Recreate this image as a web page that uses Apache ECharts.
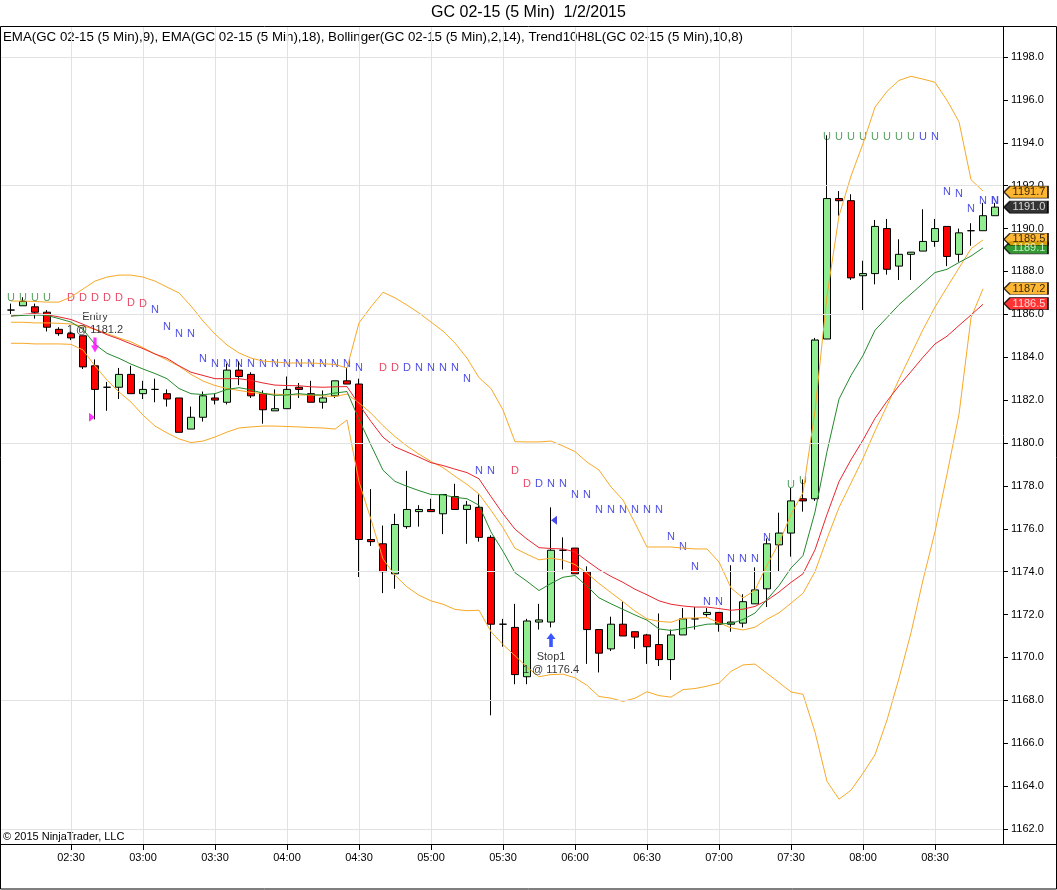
<!DOCTYPE html>
<html>
<head>
<meta charset="UTF-8"/>
<script type="text/javascript" src="https://cdn.jsdelivr.net/npm/echarts@6/dist/echarts.min.js"></script>
<style>
  html, body { margin: 0; padding: 0; background: #fff; }
  #main { width: 1057px; height: 890px; }
</style>
</head>
<body>
<div id="main"></div>
<script type="text/javascript">
// 5 minute bars, GC 02-15, 1/2/2015
var times = ['02:05','02:10','02:15','02:20','02:25','02:30','02:35','02:40','02:45','02:50','02:55','03:00',
             '03:05','03:10','03:15','03:20','03:25','03:30','03:35','03:40','03:45','03:50','03:55','04:00',
             '04:05','04:10','04:15','04:20','04:25','04:30','04:35','04:40','04:45','04:50','04:55','05:00',
             '05:05','05:10','05:15','05:20','05:25','05:30','05:35','05:40','05:45','05:50','05:55','06:00',
             '06:05','06:10','06:15','06:20','06:25','06:30','06:35','06:40','06:45','06:50','06:55','07:00',
             '07:05','07:10','07:15','07:20','07:25','07:30','07:35','07:40','07:45','07:50','07:55','08:00',
             '08:05','08:10','08:15','08:20','08:25','08:30','08:35','08:40','08:45','08:50','08:55'];
var opens  = [1186.2,1186.4,1186.35,1186.1,1185.3,1185.1,1185.0,1183.6,1182.6,1182.6,1183.2,1182.3,
              1182.5,1182.3,1182.1,1180.65,1181.2,1182.1,1181.9,1183.4,1183.2,1182.3,1181.5,1181.6,
              1182.6,1182.3,1181.9,1182.2,1182.9,1182.75,1175.5,1175.3,1173.9,1176.1,1176.8,1176.9,
              1176.7,1177.5,1176.9,1177.0,1175.6,1171.55,1171.4,1169.1,1171.65,1171.65,1175.0,1175.1,
              1174.0,1171.3,1170.4,1171.55,1171.2,1171.05,1170.6,1169.9,1171.05,1171.8,1172.0,1172.1,
              1171.55,1171.6,1172.5,1173.2,1175.25,1175.8,1177.4,1177.4,1184.85,1191.4,1191.3,1187.8,
              1187.9,1190.0,1188.25,1188.8,1188.95,1189.4,1190.1,1188.8,1189.9,1189.9,1190.6];
var highs  = [1186.5,1186.8,1186.5,1186.2,1185.4,1185.2,1185.0,1183.9,1182.85,1183.5,1183.6,1182.9,
              1183.0,1182.5,1182.1,1181.7,1182.4,1182.3,1183.7,1183.8,1183.3,1182.45,1182.5,1183.1,
              1182.8,1182.9,1182.45,1182.9,1183.5,1183.0,1177.85,1176.15,1176.7,1178.7,1177.1,1177.4,
              1177.6,1178.1,1177.3,1177.6,1175.7,1171.8,1172.5,1171.8,1172.5,1177.0,1175.6,1175.1,
              1174.25,1171.3,1171.9,1172.6,1171.2,1171.1,1172.05,1171.3,1172.3,1172.35,1172.3,1172.1,
              1174.3,1172.95,1174.2,1175.55,1176.75,1177.9,1178.3,1184.9,1194.35,1191.75,1191.6,1188.5,
              1190.4,1190.45,1189.5,1188.9,1190.9,1190.45,1190.1,1190.0,1190.25,1191.2,1191.2];
var lows   = [1186.0,1186.4,1185.8,1185.2,1185.0,1184.8,1183.45,1181.1,1181.5,1182.05,1182.3,1182.05,
              1181.9,1181.7,1180.5,1180.65,1181.0,1181.8,1181.8,1182.7,1182.1,1180.9,1181.5,1181.6,
              1182.1,1181.9,1181.6,1182.1,1182.75,1173.75,1175.2,1173.0,1173.2,1176.0,1176.1,1176.8,
              1175.75,1176.9,1175.3,1175.4,1167.3,1170.5,1168.75,1168.75,1171.3,1171.4,1174.1,1173.9,
              1169.7,1169.3,1170.3,1171.0,1170.4,1169.7,1169.6,1168.95,1171.05,1171.3,1171.9,1171.2,
              1171.2,1171.4,1172.5,1172.35,1174.0,1174.7,1176.8,1177.3,1184.85,1190.6,1187.6,1186.2,
              1187.4,1187.85,1187.6,1187.6,1188.95,1189.15,1188.25,1188.45,1189.2,1189.9,1190.6];
var closes = [1186.2,1186.6,1186.1,1185.4,1185.1,1184.9,1183.55,1182.5,1182.6,1183.2,1182.3,1182.5,
              1182.5,1182.05,1180.5,1181.2,1182.2,1182.0,1183.4,1183.1,1182.2,1181.55,1181.6,1182.5,
              1182.5,1181.9,1182.1,1182.9,1182.75,1175.5,1175.4,1174.0,1176.2,1176.9,1176.9,1176.8,
              1177.6,1176.9,1177.1,1175.6,1171.55,1171.55,1169.2,1171.7,1171.75,1175.0,1175.0,1173.9,
              1171.3,1170.2,1171.55,1171.0,1170.95,1170.5,1169.9,1171.05,1171.8,1171.8,1172.1,1171.55,
              1171.65,1172.6,1173.15,1175.3,1175.8,1177.3,1177.3,1184.8,1191.4,1191.3,1187.7,1187.9,
              1190.1,1188.1,1188.8,1188.9,1189.4,1190.0,1188.7,1189.8,1189.9,1190.6,1191.0];

// indicator plots (bars 02:05 .. 08:50)
var ema9   = [1185.92,1185.95,1185.97,1185.95,1185.8,1185.64,1185.3,1184.6,1184.18,1183.95,1183.68,1183.45,
              1183.24,1183.0,1182.54,1182.3,1182.26,1182.3,1182.5,1182.58,1182.48,1182.32,1182.22,1182.24,
              1182.3,1182.25,1182.24,1182.33,1182.4,1181.1,1179.9,1178.73,1178.21,1177.98,1177.78,1177.6,
              1177.58,1177.47,1177.4,1177.1,1175.85,1174.95,1173.95,1173.55,1173.12,1173.45,1173.74,1173.82,
              1173.32,1172.78,1172.5,1172.24,1171.98,1171.74,1171.33,1171.26,1171.34,1171.44,1171.55,1171.57,
              1171.58,1171.77,1172.07,1172.7,1173.35,1174.17,1174.75,1176.78,1179.6,1182.05,1183.15,1184.08,
              1185.26,1185.85,1186.45,1186.95,1187.45,1187.95,1188.1,1188.42,1188.72,1189.1];
var ema18  = [1185.92,1186.0,1186.04,1185.98,1185.88,1185.76,1185.54,1185.3,1185.05,1184.85,1184.62,1184.4,
              1184.15,1183.95,1183.6,1183.3,1183.15,1183.0,1183.0,1183.0,1182.92,1182.8,1182.7,1182.68,
              1182.67,1182.62,1182.6,1182.62,1182.63,1181.8,1181.0,1180.27,1179.82,1179.58,1179.34,1179.08,
              1178.95,1178.78,1178.62,1178.33,1177.5,1176.7,1175.98,1175.52,1175.12,1175.08,1175.06,1174.92,
              1174.5,1174.1,1173.78,1173.5,1173.18,1172.92,1172.64,1172.48,1172.4,1172.35,1172.35,1172.28,
              1172.2,1172.25,1172.38,1172.66,1173.05,1173.5,1173.9,1175.02,1176.67,1178.2,1179.22,1180.14,
              1181.15,1181.95,1182.67,1183.33,1184.0,1184.62,1184.98,1185.48,1185.97,1186.47];
var bbUpper  = [1186.62,1186.62,1186.6,1186.57,1186.57,1186.81,1187.18,1187.55,1187.74,1187.83,1187.83,1187.74,
                1187.55,1187.27,1187.0,1186.39,1185.69,1185.08,1184.57,1184.2,1183.96,1183.82,1183.78,1183.73,
                1183.73,1183.73,1183.7,1183.66,1183.5,1185.6,1186.35,1187.03,1186.77,1186.43,1186.06,1185.64,
                1185.22,1184.66,1183.96,1183.05,1182.54,1181.54,1180.06,1180.05,1180.05,1180.09,1179.86,1179.6,
                1179.11,1178.74,1177.95,1177.34,1176.27,1175.15,1175.15,1175.15,1175.1,1175.06,1175.06,1174.45,
                1173.24,1172.77,1173.14,1174.3,1175.33,1176.67,1177.69,1181.5,1186.86,1190.59,1192.45,1193.96,
                1195.66,1196.4,1196.91,1197.1,1196.97,1196.82,1195.98,1194.98,1192.28,1191.75];
var bbMiddle = [1185.63,1185.63,1185.6,1185.6,1185.58,1185.55,1185.45,1185.3,1185.1,1184.9,1184.72,1184.45,
                1184.15,1183.87,1183.58,1183.2,1182.89,1182.68,1182.54,1182.45,1182.36,1182.3,1182.28,1182.25,
                1182.24,1182.24,1182.2,1182.17,1182.28,1181.87,1181.39,1180.81,1180.3,1179.86,1179.48,1179.14,
                1178.85,1178.45,1178.07,1177.62,1176.86,1176.05,1175.09,1174.81,1174.55,1174.63,1174.54,1174.33,
                1173.93,1173.45,1173.02,1172.6,1172.16,1171.8,1171.68,1171.64,1171.83,1171.84,1171.86,1171.61,
                1171.38,1171.28,1171.41,1171.78,1172.08,1172.53,1172.99,1174.0,1175.54,1176.99,1178.13,1179.28,
                1180.56,1181.74,1182.97,1184.13,1185.29,1186.34,1187.26,1188.16,1189.06,1189.47];
var bbLower  = [1184.65,1184.65,1184.62,1184.62,1184.62,1184.6,1184.34,1183.59,1182.94,1182.38,1181.91,1181.3,
                1180.79,1180.47,1180.19,1180.02,1180.09,1180.28,1180.51,1180.7,1180.75,1180.79,1180.79,1180.77,
                1180.75,1180.72,1180.7,1180.65,1181.07,1178.19,1176.43,1174.59,1173.83,1173.29,1172.9,1172.64,
                1172.48,1172.24,1172.18,1172.2,1171.2,1170.6,1170.08,1169.55,1169.1,1169.2,1169.22,1169.05,
                1168.7,1168.18,1168.1,1167.95,1168.1,1168.4,1168.22,1168.15,1168.5,1168.55,1168.66,1168.8,
                1169.35,1169.65,1169.69,1169.26,1168.83,1168.39,1168.28,1166.52,1164.22,1163.39,1163.81,1164.6,
                1165.46,1167.08,1169.03,1171.15,1173.61,1175.86,1178.54,1181.34,1185.84,1187.19];

// Trend10H8L letters: bar index, letter, colour (g/r/b), price where drawn
var trendBars = [0,1,2,3,5,6,7,8,9,10,11,12,13,14,15,16,17,18,19,20,21,22,23,24,25,26,27,28,29,
                 31,32,33,34,35,36,37,38,39,40,42,43,44,45,46,47,48,49,50,51,52,53,54,55,56,57,58,59,
                 60,61,62,63,65,66,67,68,69,70,71,72,73,74,75,76,77,78,79,80,81,82];
var trendLetters = 'UUUUDDDDDDDNNNNNNNNNNNNNNNNNNDDDNNNNNNNDDDNNNNNNNNNNNNNNNNNNNUUUUUUUUUUUUNNNNNN'.split('');
var trendColors  = 'ggggrrrrrrrbbbbbbbbbbbbbbbbbbrrbbbbbbbbrrbbbbbbbbbbbbbbbbbbbbgggggggggggbbbbbbb'.split('');
var trendPrices = [1186.76,1186.76,1186.76,1186.76,1186.76,1186.76,1186.76,1186.76,1186.76,1186.55,1186.48,
                   1186.2,1185.41,1185.1,1185.1,1183.92,1183.68,1183.68,1183.68,1183.68,1183.68,1183.68,
                   1183.68,1183.68,1183.68,1183.68,1183.68,1183.68,1183.48,1183.48,1183.48,1183.48,1183.48,
                   1183.48,1183.48,1183.48,1182.97,1178.7,1178.7,1178.7,1178.09,1178.09,1178.09,1178.09,
                   1177.57,1177.57,1176.88,1176.88,1176.88,1176.88,1176.88,1176.88,1175.6,1175.14,1174.2,
                   1172.6,1172.6,1174.58,1174.58,1174.58,1175.56,1178.04,1178.23,1184.6,1194.28,1194.28,
                   1194.28,1194.28,1194.28,1194.28,1194.28,1194.28,1194.28,1194.28,1191.72,1191.61,1190.9,
                   1191.3,1191.3];
var letterColor = { g: '#2f8a3c', r: '#e0183c', b: '#2222dd' };

// executions
var entryBar = 7, entryPrice = 1181.2, entryArrowPrice = 1184.57, entryTextPrice = 1185.57;
var stopBar = 45, stopPrice = 1176.4, stopArrowPrice = 1170.81, stopTextPrice = 1169.74;

// axis
var timeTicks = ['02:30','03:00','03:30','04:00','04:30','05:00','05:30','06:00','06:30','07:00','07:30','08:00','08:30'];
var priceTicks = [1162,1164,1166,1168,1170,1172,1174,1176,1178,1180,1182,1184,1186,1188,1190,1192,1194,1196,1198];
var gridPrices = [1162,1168,1174,1180,1186,1192,1198];

// price markers on the axis
var flagPrices = [1191.7, 1191.0, 1189.1, 1189.5, 1187.2, 1186.5];
var flagFill   = ['#ffa500', '#000000', '#008000', '#ffa500', '#ffa500', '#ff0000'];
var flagText   = ['#000000', '#ffffff', '#e8ffe8', '#000000', '#000000', '#ffffff'];

var xMin = 120, xMax = 538.33;

function toMin(t) { var p = t.split(':'); return (+p[0]) * 60 + (+p[1]); }
function fmt(m) {
  var h = Math.floor(m / 60), mm = m % 60;
  return (h < 10 ? '0' : '') + h + ':' + (mm < 10 ? '0' : '') + mm;
}
function linePts(arr) { return arr.map(function (v, i) { return [toMin(times[i]), v]; }); }

var candleData = times.map(function (t, i) { return [toMin(t), opens[i], closes[i], lows[i], highs[i]]; });

var letterData = trendBars.map(function (b, k) {
  return {
    name: trendLetters[k],
    value: [toMin(times[b]), trendPrices[k]],
    label: { color: letterColor[trendColors[k]], fontWeight: b === 82 ? 'bold' : 'normal' }
  };
});

var flagData = flagPrices.map(function (p, k) {
  return {
    value: [xMax, p],
    itemStyle: { color: flagFill[k] },
    label: { color: flagText[k] }
  };
});

var FONT = '"Liberation Sans", Arial, sans-serif';
var myChart = echarts.init(document.getElementById('main'));

var option = {
  animation: false,
  backgroundColor: '#ffffff',
  textStyle: { fontFamily: FONT },
  grid: { left: -1, right: 54, top: 27, bottom: 46, containLabel: false, outerBoundsMode: 'none' },
  xAxis: {
    type: 'value', min: xMin, max: xMax, interval: 30,
    axisLine: { show: true, lineStyle: { color: '#000', width: 1 } },
    axisTick: { show: true, length: 6, customValues: timeTicks.map(toMin), lineStyle: { color: '#000' } },
    axisLabel: {
      color: '#000', fontSize: 11, fontFamily: FONT, margin: 8,
      formatter: function (v) { return (v > xMin && Math.abs(v % 30) < 1e-6) ? fmt(v) : ''; }
    },
    splitLine: { show: true, lineStyle: { color: '#e2e2e2', width: 1 } }
  },
  yAxis: {
    type: 'value', position: 'right', min: 1161.3, max: 1199.4, scale: true,
    axisLine: { show: true, lineStyle: { color: '#000', width: 1 } },
    axisTick: { show: true, length: 5, customValues: priceTicks, lineStyle: { color: '#000' } },
    axisLabel: {
      customValues: priceTicks, color: '#000', fontSize: 11, fontFamily: FONT, margin: 8,
      formatter: function (v) { return v.toFixed(1); }
    },
    splitLine: { show: false }
  },
  graphic: [
    { type: 'text', left: 'center', top: 5, silent: true,
      style: { text: 'GC 02-15 (5 Min)  1/2/2015', fill: '#000', font: '16px ' + FONT } },
    { type: 'text', left: 3, top: 31, silent: true,
      style: { text: 'EMA(GC 02-15 (5 Min),9), EMA(GC 02-15 (5 Min),18), Bollinger(GC 02-15 (5 Min),2,14), Trend10H8L(GC 02-15 (5 Min),10,8)',
               fill: '#000', font: '13.3px ' + FONT } },
    { type: 'text', left: 3, top: 831, silent: true,
      style: { text: '\u00a9 2015 NinjaTrader, LLC', fill: '#000', font: '11px ' + FONT } },
    { type: 'rect', silent: true, z: 100,
      shape: { x: 0.5, y: 26.5, width: 1056, height: 862.5 },
      style: { fill: 'none', stroke: '#000', lineWidth: 1 } },
    { type: 'line', silent: true, z: 100,
      shape: { x1: 0, y1: 844.5, x2: 1057, y2: 844.5 },
      style: { stroke: '#000', lineWidth: 1 } }
  ],
  series: [
    {
      name: 'grid', type: 'line', z: 0, data: [], silent: true,
      markLine: {
        silent: true, symbol: ['none', 'none'], label: { show: false },
        lineStyle: { color: '#e2e2e2', type: 'solid', width: 1 },
        data: gridPrices.map(function (p) { return { yAxis: p }; })
      }
    },
    {
      name: 'Trend10H8L', type: 'scatter', z: 1, silent: true,
      symbolSize: 1, itemStyle: { color: 'rgba(0,0,0,0)' },
      label: { show: true, position: 'inside', formatter: '{b}', fontSize: 11, fontFamily: FONT },
      data: letterData
    },
    {
      name: 'GC 02-15', type: 'candlestick', z: 2,
      dimensions: ['time', 'open', 'close', 'lowest', 'highest'],
      encode: { x: 'time', y: ['open', 'close', 'lowest', 'highest'] },
      barWidth: 8,
      itemStyle: {
        color: '#90ee90', color0: '#ff0000',
        borderColor: '#000000', borderColor0: '#000000', borderColorDoji: '#000000', borderWidth: 1
      },
      data: candleData
    },
    { name: 'Bollinger upper', type: 'line', z: 3, showSymbol: false, silent: true,
      lineStyle: { color: '#f7a928', width: 1 }, data: linePts(bbUpper) },
    { name: 'Bollinger middle', type: 'line', z: 3, showSymbol: false, silent: true,
      lineStyle: { color: '#f7a928', width: 1 }, data: linePts(bbMiddle) },
    { name: 'Bollinger lower', type: 'line', z: 3, showSymbol: false, silent: true,
      lineStyle: { color: '#f7a928', width: 1 }, data: linePts(bbLower) },
    { name: 'EMA 18', type: 'line', z: 3, showSymbol: false, silent: true,
      lineStyle: { color: '#e8262e', width: 1 }, data: linePts(ema18) },
    { name: 'EMA 9', type: 'line', z: 3, showSymbol: false, silent: true,
      lineStyle: { color: '#238a2c', width: 1 }, data: linePts(ema9) },
    {
      name: 'executions', type: 'scatter', z: 4, silent: true, clip: false,
      label: { fontSize: 11, fontFamily: FONT, color: '#000', lineHeight: 13 },
      data: [
        { value: [toMin(times[entryBar]), entryArrowPrice], symbol: 'path://M3,0L7,0L7,8L10,8L5,15L0,8L3,8Z',
          symbolSize: [8, 15], itemStyle: { color: '#ff00ff' } },
        { value: [toMin(times[entryBar]), entryPrice], symbol: 'path://M0,0L6,4.5L0,9Z',
          symbolSize: [6, 9], symbolOffset: [-3, 0], itemStyle: { color: '#ff00ff' } },
        { value: [toMin(times[entryBar]), entryTextPrice], symbolSize: 1, itemStyle: { color: 'rgba(0,0,0,0)' },
          label: { show: true, position: 'inside', formatter: 'Entry\n1 @ ' + entryPrice.toFixed(1) } },
        { value: [toMin(times[stopBar]), stopArrowPrice], symbol: 'path://M5,0L10,6L7,6L7,14L3,14L3,6L0,6Z',
          symbolSize: [9, 14], itemStyle: { color: '#0a2cff' } },
        { value: [toMin(times[stopBar]), stopPrice], symbol: 'path://M6,0L0,4.5L6,9Z',
          symbolSize: [6, 9], symbolOffset: [3, 0], itemStyle: { color: '#1a1ae0' } },
        { value: [toMin(times[stopBar]), stopTextPrice], symbolSize: 1, itemStyle: { color: 'rgba(0,0,0,0)' },
          label: { show: true, position: 'inside', formatter: 'Stop1\n1 @ ' + stopPrice.toFixed(1) } }
      ]
    },
    {
      name: 'price markers', type: 'scatter', z: 5, silent: true, clip: false,
      symbol: 'path://M0,6L6,0L44,0L44,12L6,12Z', symbolSize: [44, 12], symbolOffset: [23, 0],
      itemStyle: { borderColor: '#000', borderWidth: 1 },
      label: { show: true, position: 'inside', offset: [3, 0], fontSize: 11, fontFamily: FONT,
               formatter: function (p) { return p.value[1].toFixed(1); } },
      data: flagData
    }
  ]
};
myChart.setOption(option);
</script>
</body>
</html>
